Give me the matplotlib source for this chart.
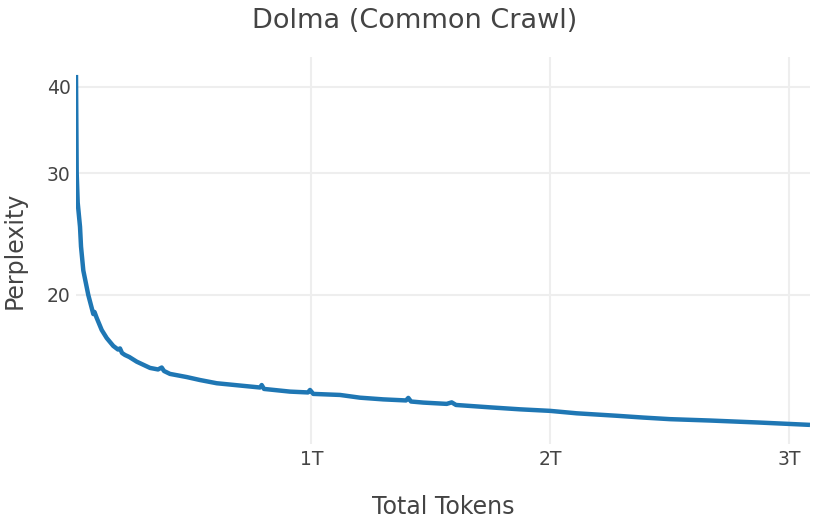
import matplotlib.pyplot as plt
from matplotlib.ticker import FixedLocator, NullLocator

# total tokens seen (billions) and eval perplexity
tokens_b = [13.6, 14.9, 16.5, 20.7, 30.4, 34.6, 44.2, 65.1, 86.1, 91.1,
            100.3, 121.3, 142.2, 169.8, 189.5, 197.9, 206.3, 218.8, 236.9, 267.9,
            323.6, 357.1, 372.6, 382.2, 407.3, 477.3, 533.0, 602.9, 714.4, 784.3,
            791.4, 801.1, 910.0, 985.3, 993.7, 1007.5, 1119.4, 1203.2, 1300.7, 1395.8,
            1405.5, 1416.8, 1468.3, 1566.3, 1587.2, 1605.2, 1747.6, 1873.3, 1999.0, 2110.8,
            2278.3, 2389.8, 2501.6, 2669.1, 2878.6, 3088.0]
perplexity = [41.6, 35.8, 30.0, 27.2, 25.1, 23.5, 21.7, 20.0, 18.77, 18.90,
              18.53, 17.80, 17.33, 16.88, 16.68, 16.74, 16.49, 16.38, 16.27, 16.02,
              15.69, 15.61, 15.71, 15.53, 15.38, 15.22, 15.07, 14.91, 14.78, 14.70,
              14.82, 14.63, 14.50, 14.46, 14.58, 14.39, 14.34, 14.21, 14.13, 14.08,
              14.20, 14.03, 13.98, 13.92, 13.99, 13.87, 13.76, 13.67, 13.60, 13.49,
              13.38, 13.30, 13.23, 13.17, 13.08, 12.98]

x_ticks = [1000, 2000, 3000]
x_tick_labels = ['1T', '2T', '3T']
y_ticks = [20, 30, 40]
y_tick_labels = ['20', '30', '40']

text_color = '#444444'
grid_color = '#eeeeee'

fig = plt.figure(figsize=(8.3, 5.2), dpi=100)
ax = fig.add_axes([76 / 830, 1 - 444 / 520, (810 - 76) / 830, (444 - 57) / 520])

ax.plot(tokens_b, perplexity, color='#1f77b4', linewidth=3.2,
        solid_joinstyle='round', solid_capstyle='butt', zorder=3)

ax.set_yscale('log')
ax.set_xlim(13.6, 3088)
ax.set_ylim(12.18, 44.16)

ax.xaxis.set_major_locator(FixedLocator(x_ticks))
ax.set_xticklabels(x_tick_labels)
ax.yaxis.set_major_locator(FixedLocator(y_ticks))
ax.yaxis.set_minor_locator(NullLocator())
ax.set_yticklabels(y_tick_labels)

ax.grid(True, color=grid_color, linewidth=1.5, zorder=0)
ax.set_axisbelow(True)
for s in ax.spines.values():
    s.set_visible(False)
ax.tick_params(length=0, labelsize=13.5, labelcolor=text_color)
ax.tick_params(axis='x', pad=4)
ax.tick_params(axis='y', pad=4)

ax.set_xlabel('Total Tokens', fontsize=17, color=text_color, labelpad=19)
ax.set_ylabel('Perplexity', fontsize=17, color=text_color, labelpad=14)
fig.suptitle('Dolma (Common Crawl)', fontsize=19.5, color=text_color, x=0.5, y=0.985)

fig.savefig('out.png', dpi=100)
